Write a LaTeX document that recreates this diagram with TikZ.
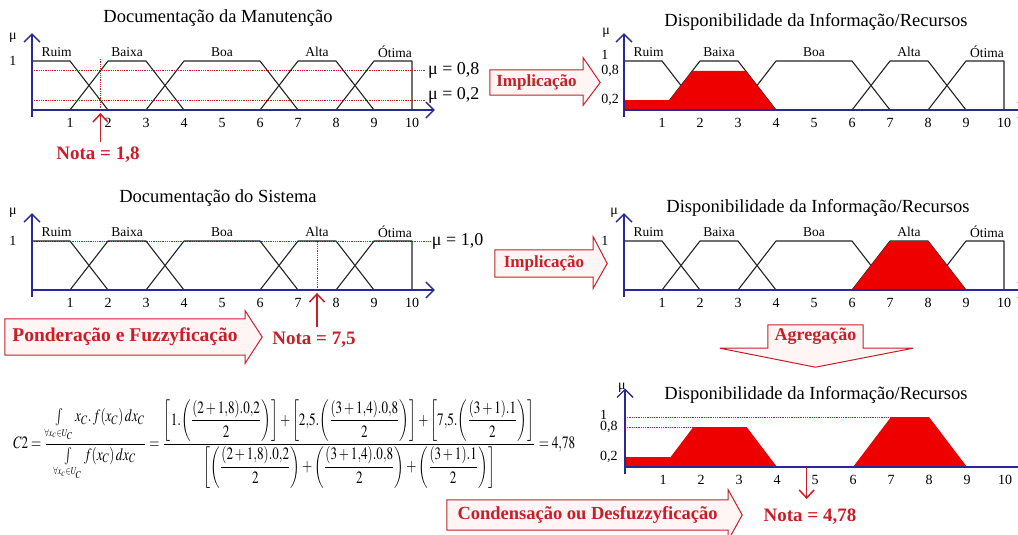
\documentclass[tikz,border=0pt]{standalone}
\usepackage{amsmath}
\usepackage{mathptmx}
\usepackage[no-math]{fontspec}
\setmainfont{Liberation Serif}
\usepackage{graphicx}
\usetikzlibrary{arrows.meta, positioning, calc, backgrounds}
\definecolor{cnavy}{RGB}{40,40,150}
\definecolor{cred}{RGB}{200,30,40}
\definecolor{cfill}{RGB}{238,0,0}
\definecolor{cink}{RGB}{35,35,35}
\tikzset{
  muaxis/.style={draw=cnavy, line width=1.4pt, -{Straight Barb[length=8pt, width=16pt, line width=1.4pt]}},
  fset/.style={draw=cink, line width=1.1pt, line join=round},
  cutline/.style={draw=cred, densely dotted, line width=0.8pt},
  redcut/.style={fill=cfill, draw=none},
  title/.style={font=\fontsize{18.5}{20}\selectfont, inner sep=0pt},
  setname/.style={font=\fontsize{13.5}{14}\selectfont, inner sep=0pt},
  num/.style={font=\fontsize{14}{15}\selectfont, inner sep=0pt},
  mulabel/.style={font=\fontsize{18}{19}\selectfont, inner sep=0pt, anchor=west},
  nota/.style={text=cred, font=\fontsize{19}{20}\selectfont\bfseries, inner sep=0pt},
  body/.style={text=cred, font=\fontsize{19}{20}\selectfont\bfseries, inner sep=0pt},
  blockarrow/.style={draw=cred, fill=red!4, line width=1pt},
  notaarrow/.style={draw=cred, line width=1.5pt, -{Straight Barb[length=8pt, width=15pt, line width=1.5pt]}},
}
\begin{document}
\begin{tikzpicture}[x=1pt, y=-1pt]
  \useasboundingbox (0,0) rectangle (1018,535);
  \newcommand{\fuzzysets}{%
    \draw[fset] (0,1) -- (1,1) -- (2,0);
    \draw[fset] (1,0) -- (2,1) -- (3,1) -- (4,0);
    \draw[fset] (3,0) -- (4,1) -- (6,1) -- (7,0);
    \draw[fset] (6,0) -- (7,1) -- (8,1) -- (9,0);
    \draw[fset] (8,0) -- (9,1) -- (10,1) -- (10,0);}
  \newcommand{\setnames}[1]{%
    \foreach \n/\l/\x in {r/Ruim/0.65, b/Baixa/2.5, o/Boa/5, a/Alta/7.5, t/Ótima/9.55} {\node[setname] (#1\n) at (\x,1.19) {\l};}}
  \newcommand{\fuzzyaxes}[1]{%
    \draw[muaxis] (0,-0.14) -- (0,1.57);
    \draw[muaxis] (0,0) -- (10.6,0);
    \foreach \t in {1,...,10} {\node[num, below=8pt] (#1x\t) at (\t,0) {\t};}}
  % Documentação da Manutenção
  \node[title] (ta) at (218,18) {Documentação da Manutenção};
  \begin{scope}[shift={(32,110)}, x=38pt, y=49pt]
    \draw[cutline] (0,0.8) -- (10.35,0.8);
    \draw[cutline] (0,0.2) -- (10.35,0.2);
    \draw[cutline] (1.8,0) -- (1.8,1.06);
    \fuzzysets \setnames{a}
    \node[num, anchor=west] (av1) at (-0.6,1) {1};
    \node[num] (amu) at (-0.5,1.47) {μ};
    \node[mulabel] (am8) at (10.42,0.8) {μ = 0,8};
    \node[mulabel, yshift=5pt] (am2) at (10.42,0.2) {μ = 0,2};
    \coordinate (aN) at (1.8,-0.06);
    \fuzzyaxes{a}
  \end{scope}
  \node[nota] (anota) at (98,155) {Nota = 1,8};
  \draw[notaarrow] ($(anota.north -| aN)+(0,-5)$) -- (aN);
  % Documentação do Sistema
  \node[title] (tb) at (218,198) {Documentação do Sistema};
  \begin{scope}[shift={(32,290)}, x=38pt, y=49pt]
    \draw[cutline] (0,1) -- (10.47,1);
    \draw[cutline] (7.5,0) -- (7.5,1);
    \fuzzysets \setnames{b}
    \node[num, anchor=west] (bv1) at (-0.6,1) {1};
    \node[num] (bmu) at (-0.5,1.57) {μ};
    \node[mulabel] (bm1) at (10.52,1) {μ = 1,0};
    \coordinate (bN) at (7.5,-0.06);
    \fuzzyaxes{b}
  \end{scope}
  \node[nota] (bnota) at (314,340) {Nota = 7,5};
  \draw[notaarrow] ($(bnota.north -| bN)+(0,-5)$) -- (bN);
  % Disponibilidade, top
  \node[title] (tc) at (816,22) {Disponibilidade da Informação/Recursos};
  \begin{scope}[shift={(624,110)}, x=38pt, y=49pt]
    \fuzzysets \setnames{c}
    \fill[redcut] (0,0) -- (0,0.2) -- (1.2,0.2) -- (1.8,0.8) -- (3.2,0.8) -- (4,0) -- cycle;
    \node[num, anchor=west, yshift=6pt] (cv1) at (-0.6,1) {1};
    \node[num, anchor=west] (cv8) at (-0.6,0.8) {0,8};
    \node[num, anchor=west] (cv2) at (-0.6,0.2) {0,2};
    \node[num] (cmu) at (-0.47,1.57) {μ};
    \fuzzyaxes{c}
  \end{scope}
  % Disponibilidade, middle
  \node[title] (td) at (818,208) {Disponibilidade da Informação/Recursos};
  \begin{scope}[shift={(624,290)}, x=38pt, y=49pt]
    \fuzzysets \setnames{d}
    \fill[redcut] (6,0) -- (7,1) -- (8,1) -- (9,0) -- cycle;
    \node[num, anchor=west] (dv1) at (-0.6,1) {1};
    \node[num] (dmu) at (-0.26,1.57) {μ};
    \fuzzyaxes{d}
  \end{scope}
  % Disponibilidade, aggregated
  \node[title] (te) at (816,395) {Disponibilidade da Informação/Recursos};
  \begin{scope}[shift={(625,467)}, x=38pt, y=50pt]
    \fill[redcut] (0,0) -- (0,0.2) -- (1.2,0.2) -- (1.8,0.8) -- (3.2,0.8) -- (4,0) -- cycle;
    \fill[redcut] (6,0) -- (7,1) -- (8,1) -- (9,0) -- cycle;
    \draw[cutline] (0,1) -- (7,1);
    \draw[cutline] (0,0.8) -- (1.8,0.8);
    \node[num, anchor=west, yshift=2pt] (ev1) at (-0.66,1) {1};
    \node[num, anchor=west] (ev8) at (-0.66,0.8) {0,8};
    \node[num, anchor=west] (ev2) at (-0.66,0.2) {0,2};
    \node[num] (emu) at (-0.08,1.58) {μ};
    \coordinate (eN) at (4.78,0);
    \fuzzyaxes{e}
  \end{scope}
  \node[nota] (enota) at (810,517) {Nota = 4,78};
  \draw[notaarrow] (eN) -- ($(enota.north -| eN)+(0,-10)$);
  % block arrows
  \node[body, minimum width=93pt, minimum height=25pt, font=\fontsize{17}{18}\selectfont\bfseries] (imp1) at (536.5,82.5) {Implicação};
  \node[body, minimum width=98pt, minimum height=27pt, font=\fontsize{17}{18}\selectfont\bfseries] (imp2) at (544,263.5) {Implicação};
  \node[body, minimum width=240pt, minimum height=36pt, font=\fontsize{19.5}{20}\selectfont\bfseries] (pond) at (125,337) {Ponderação e Fuzzyficação};
  \node[body, minimum width=281pt, minimum height=30pt, font=\fontsize{18.5}{19}\selectfont\bfseries] (cond) at (587.5,515) {Condensação ou Desfuzzyficação};
  \node[body, minimum width=95pt, minimum height=23pt, font=\fontsize{18}{19}\selectfont\bfseries] (agg) at (815.5,336.5) {Agregação};
  \begin{scope}[on background layer]
    \draw[blockarrow] (imp1.south west) -- (imp1.north west) -- (imp1.north east) -- ++(0,-12) -- ($(imp1.east)+(17,0)$) -- ($(imp1.south east)+(0,10)$) -- (imp1.south east) -- cycle;
    \draw[blockarrow] (imp2.south west) -- (imp2.north west) -- (imp2.north east) -- ++(0,-13) -- ($(imp2.east)+(14,0)$) -- ($(imp2.south east)+(0,11)$) -- (imp2.south east) -- cycle;
    \draw[blockarrow] (pond.south west) -- (pond.north west) -- (pond.north east) -- ++(0,-8) -- ($(pond.east)+(17,0)$) -- ($(pond.south east)+(0,8)$) -- (pond.south east) -- cycle;
    \draw[blockarrow] (cond.south west) -- (cond.north west) -- (cond.north east) -- ++(0,-10) -- ($(cond.east)+(14,0)$) -- ($(cond.south east)+(0,10)$) -- (cond.south east) -- cycle;
    \draw[blockarrow] (agg.south west) -- (agg.north west) -- (agg.north east) -- (agg.south east) -- ($(agg.south east)+(50,0)$) -- ($(agg.south)+(0,19)$) -- ($(agg.south west)+(-48,0)$) -- cycle;
  \end{scope}
  % centroid
  \node[anchor=west, inner sep=0pt] (formula) at (13,444) {\resizebox*{562pt}{88pt}{$\displaystyle C2=\frac{\int\limits_{\scriptscriptstyle\forall x_c\in U_C} x_C .\, f(x_C)\,dx_C}{\int\limits_{\scriptscriptstyle\forall x_c\in U_C} f(x_C)\,dx_C}=\frac{\left[1.\!\left(\dfrac{(2+1{,}8).0{,}2}{2}\right)\right]+\left[2{,}5.\!\left(\dfrac{(3+1{,}4).0{,}8}{2}\right)\right]+\left[7{,}5.\!\left(\dfrac{(3+1).1}{2}\right)\right]}{\left[\left(\dfrac{(2+1{,}8).0{,}2}{2}\right)+\left(\dfrac{(3+1{,}4).0{,}8}{2}\right)+\left(\dfrac{(3+1).1}{2}\right)\right]}=4{,}78$}};
\end{tikzpicture}
\end{document}
